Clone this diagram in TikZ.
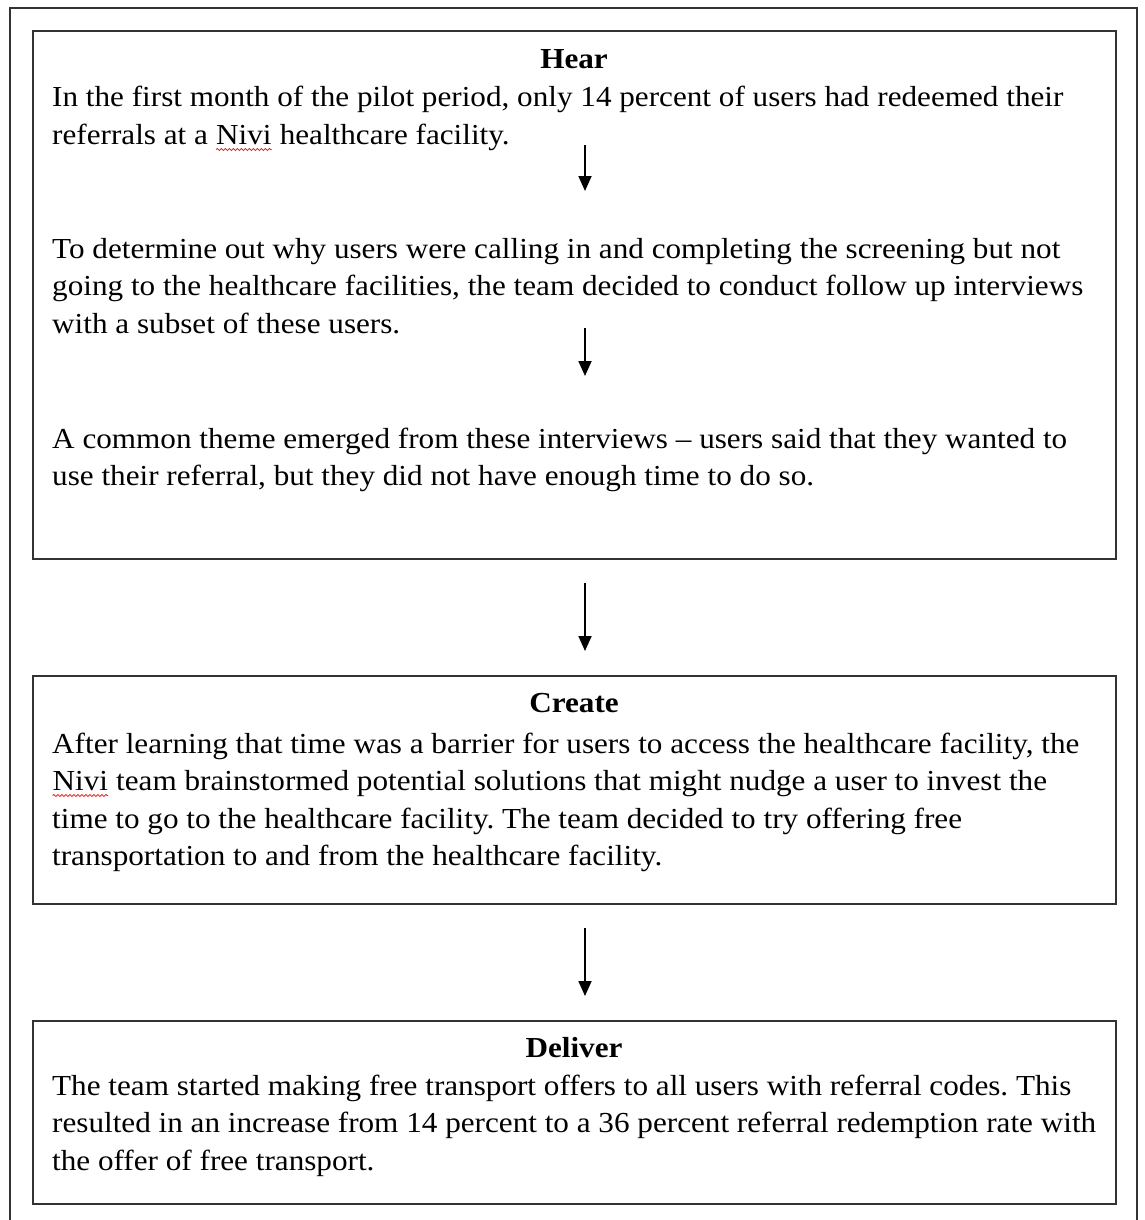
\documentclass[tikz,border=0pt]{standalone}
\usepackage{fontspec}
\setmainfont{Liberation Serif}[FakeStretch=1.075]
\usetikzlibrary{arrows.meta,decorations.pathmorphing}
\frenchspacing
\newcommand{\nivi}{\tikz[baseline=(nv.base)]{\node[inner sep=0pt,outer sep=0pt] (nv) {Nivi};\draw[red,line width=0.8pt,decorate,decoration={snake,amplitude=1pt,segment length=4pt}] ([yshift=-5pt]nv.base west) -- ([yshift=-5pt]nv.base east);}}
\tikzset{
  frame/.style={draw=black!80, line width=1.6pt},
  txt/.style={anchor=base west, align=left, inner sep=0pt, font=\fontsize{29}{37.5}\selectfont},
  ttl/.style={anchor=base, inner sep=0pt, font=\fontsize{29}{37.5}\selectfont\bfseries},
  arr/.style={line width=1.8pt, -{Triangle[width=13pt,length=15pt]}}
}
\begin{document}
\begin{tikzpicture}[x=1pt,y=-1pt]
\useasboundingbox (0,0) rectangle (1144,1220);
\fill[white] (0,0) rectangle (1144,1220);
% outer frame
\draw[frame] (10,8) rectangle (1137,1240);
% boxes
\node[frame, minimum width=1083pt, minimum height=528pt, anchor=north west, inner sep=0] (hear) at (32,30) {};
\node[frame, minimum width=1083pt, minimum height=228pt, anchor=north west, inner sep=0] (create) at (32,675) {};
\node[frame, minimum width=1083pt, minimum height=183pt, anchor=north west, inner sep=0] (deliver) at (32,1020) {};
% Hear (anchors at baseline of last line)
\node[ttl] (hearT) at (574,69) {Hear};
\node[txt] (p1) at (52,144.5) {In the first month of the pilot period, only 14 percent of users had redeemed their\\referrals at a \nivi{} healthcare facility.};
\node[txt] (p2) at (52,333) {To determine out why users were calling in and completing the screening but not\\going to the healthcare facilities, the team decided to conduct follow up interviews\\with a subset of these users.};
\node[txt] (p3) at (52,485.5) {A common theme emerged from these interviews -- users said that they wanted to\\use their referral, but they did not have enough time to do so.};
% Create
\node[ttl] (createT) at (574,712) {Create};
\node[txt] (c1) at (52,865.5) {After learning that time was a barrier for users to access the healthcare facility, the\\\nivi{} team brainstormed potential solutions that might nudge a user to invest the\\time to go to the healthcare facility. The team decided to try offering free\\transportation to and from the healthcare facility.};
% Deliver
\node[ttl] (deliverT) at (574,1057) {Deliver};
\node[txt] (d1) at (52,1170) {The team started making free transport offers to all users with referral codes. This\\resulted in an increase from 14 percent to a 36 percent referral redemption rate with\\the offer of free transport.};
% arrows
\coordinate (a1s) at (585,145);
\coordinate (a1e) at (585,191);
\coordinate (a2s) at (585,328);
\coordinate (a2e) at (585,376);
\coordinate (a3s) at (585,583);
\coordinate (a3e) at (585,651);
\coordinate (a4s) at (585,928);
\coordinate (a4e) at (585,996);
\draw[arr] (a1s) -- (a1e);
\draw[arr] (a2s) -- (a2e);
\draw[arr] (a3s) -- (a3e);
\draw[arr] (a4s) -- (a4e);
\end{tikzpicture}
\end{document}
